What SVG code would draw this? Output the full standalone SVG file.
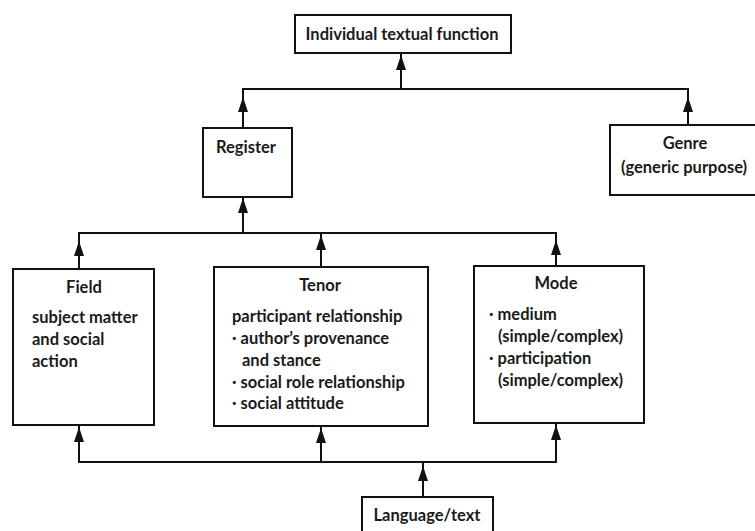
<svg xmlns="http://www.w3.org/2000/svg" width="755" height="531" viewBox="0 0 755 531">
<style>
.box{fill:#fff;stroke:#111;stroke-width:2}
.t{font-family:Lato,"Open Sans","Liberation Sans",sans-serif;font-weight:700;font-size:16.5px;fill:#1a1a1a}
.c{text-anchor:middle}
.ln{fill:none;stroke:#111;stroke-width:2}
</style>
<defs>
<path id="ah" d="M0,0 L-5,15 L5,15 Z" fill="#111"/>
</defs>
<rect width="755" height="531" fill="#fff"/>
<g id="connectors">
<path class="ln" d="M243,128 V89 H688 V125"/>
<path class="ln" d="M401,89 V53"/>
<path class="ln" d="M79,269 V233 H556 V267"/>
<path class="ln" d="M243,233 V197"/>
<path class="ln" d="M321,233 V267"/>
<path class="ln" d="M79,425 V462 H556 V423"/>
<path class="ln" d="M321,426 V462"/>
<path class="ln" d="M423,497 V462"/>
<use href="#ah" x="401" y="55"/>
<use href="#ah" x="243" y="97"/>
<use href="#ah" x="688" y="97"/>
<use href="#ah" x="243" y="198"/>
<use href="#ah" x="79" y="241"/>
<use href="#ah" x="321" y="235"/>
<use href="#ah" x="556" y="240"/>
<use href="#ah" x="79" y="427"/>
<use href="#ah" x="321" y="428"/>
<use href="#ah" x="556" y="425"/>
<use href="#ah" x="423" y="466"/>
</g>
<g id="individual">
<rect class="box" x="295" y="15" width="216" height="38"/>
<text class="t c" x="402" y="40">Individual textual function</text>
</g>
<g id="register">
<rect class="box" x="203" y="128" width="89" height="69"/>
<text class="t c" x="246" y="153">Register</text>
</g>
<g id="genre">
<rect class="box" x="610" y="125" width="148" height="70"/>
<text class="t c" x="685" y="149">Genre</text>
<text class="t c" x="684" y="173">(generic purpose)</text>
</g>
<g id="field">
<rect class="box" x="13" y="269" width="141" height="156"/>
<text class="t c" x="84" y="293">Field</text>
<text class="t" x="32" y="323">subject matter</text>
<text class="t" x="32" y="345">and social</text>
<text class="t" x="32" y="367">action</text>
</g>
<g id="tenor">
<rect class="box" x="214" y="267" width="214" height="159"/>
<text class="t c" x="320" y="291">Tenor</text>
<text class="t" x="232" y="322">participant relationship</text>
<text class="t" x="232" y="344">· author’s provenance</text>
<text class="t" x="242" y="366">and stance</text>
<text class="t" x="232" y="388">· social role relationship</text>
<text class="t" x="232" y="409">· social attitude</text>
</g>
<g id="mode">
<rect class="box" x="474" y="266" width="170" height="157"/>
<text class="t c" x="556" y="289">Mode</text>
<text class="t" x="489" y="320">· medium</text>
<text class="t" x="498" y="342">(simple/complex)</text>
<text class="t" x="489" y="364">· participation</text>
<text class="t" x="498" y="386">(simple/complex)</text>
</g>
<g id="language">
<rect class="box" x="362" y="497" width="131" height="40"/>
<text class="t c" x="427" y="521">Language/text</text>
</g>
</svg>
